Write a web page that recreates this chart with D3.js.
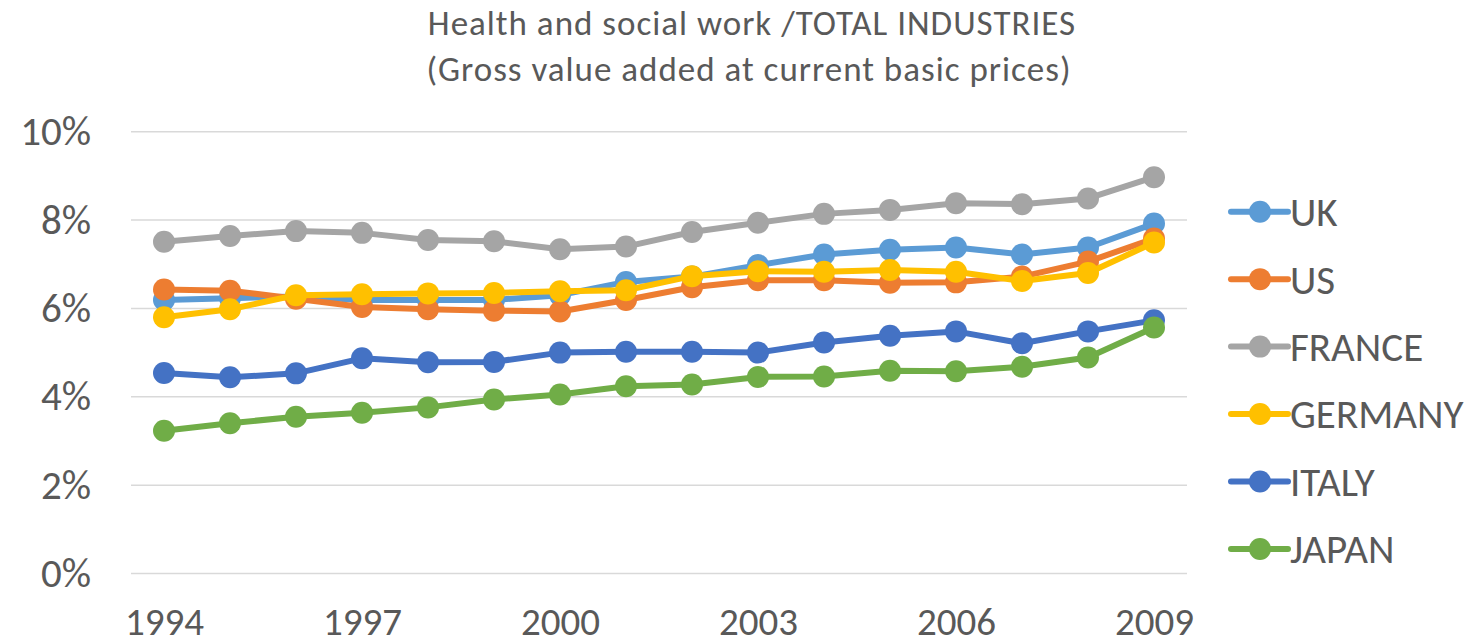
<!DOCTYPE html>
<html>
<head>
<meta charset="utf-8">
<script src="https://cdn.jsdelivr.net/npm/d3@7"></script>
<style>
  html, body { margin: 0; padding: 0; background: #fff; }
  svg { display: block; }
  text { font-family: Carlito, Calibri, Lato, "Open Sans", sans-serif; fill: #595959; }
</style>
</head>
<body>
<svg id="chart" width="1476" height="644"></svg>
<script>
// Share of health and social work in total gross value added (%)
const years = [1994,1995,1996,1997,1998,1999,2000,2001,2002,2003,2004,2005,2006,2007,2008,2009];
const tickYears = [1994,1997,2000,2003,2006,2009];
const yTicks = [0,2,4,6,8,10];

const uk      = [6.19,6.23,6.27,6.19,6.19,6.19,6.30,6.60,6.72,6.98,7.22,7.33,7.38,7.22,7.38,7.92];
const us      = [6.43,6.40,6.22,6.03,5.98,5.95,5.93,6.19,6.48,6.64,6.64,6.58,6.59,6.72,7.06,7.58];
const france  = [7.51,7.64,7.75,7.71,7.55,7.52,7.34,7.40,7.73,7.94,8.14,8.23,8.38,8.36,8.49,8.97];
const germany = [5.80,5.98,6.30,6.32,6.34,6.35,6.39,6.41,6.73,6.84,6.83,6.87,6.83,6.62,6.80,7.49];
const italy   = [4.54,4.44,4.53,4.87,4.78,4.79,5.00,5.02,5.02,5.00,5.23,5.38,5.48,5.21,5.48,5.73];
const japan   = [3.23,3.40,3.55,3.64,3.76,3.94,4.05,4.24,4.28,4.45,4.46,4.59,4.58,4.68,4.89,5.57];

const seriesNames  = ["UK","US","FRANCE","GERMANY","ITALY","JAPAN"];
const seriesValues = [uk, us, france, germany, italy, japan];
const seriesColors = ["#5B9BD5","#ED7D31","#A5A5A5","#FFC000","#4472C4","#70AD47"];

const svg = d3.select("#chart");

const x = d3.scalePoint().domain(years).range([131, 1187]).padding(0.5);
const y = d3.scaleLinear().domain([0, 10]).range([573.5, 131.7]);

// Title
svg.append("text")
  .attr("x", 752).attr("y", 35)
  .attr("text-anchor", "middle")
  .style("font-size", "35px")
  .style("letter-spacing", "1px")
  .text("Health and social work /TOTAL INDUSTRIES");
svg.append("text")
  .attr("x", 749).attr("y", 81)
  .attr("text-anchor", "middle")
  .style("font-size", "35px")
  .style("letter-spacing", "1px")
  .text("(Gross value added at current basic prices)");

// Horizontal gridlines
svg.append("g")
  .selectAll("line")
  .data(yTicks)
  .join("line")
  .attr("x1", 131).attr("x2", 1187)
  .attr("y1", d => y(d)).attr("y2", d => y(d))
  .attr("stroke", "#D9D9D9")
  .attr("stroke-width", 1.5);

// Y axis labels
const yAxis = d3.axisLeft(y).tickValues(yTicks).tickFormat(d => d + "%").tickSize(0).tickPadding(0);
const yg = svg.append("g").attr("transform", "translate(91,0)").call(yAxis);
yg.select(".domain").remove();
yg.selectAll("text").style("font-size", "41px").attr("fill", "#595959").attr("font-family", null);

// X axis labels
const xAxis = d3.axisBottom(x).tickValues(tickYears).tickSize(0).tickPadding(0);
const xg = svg.append("g").attr("transform", "translate(0,607)").call(xAxis);
xg.select(".domain").remove();
xg.selectAll("text").style("font-size", "39px").attr("fill", "#595959").attr("font-family", null);

// Series: line then markers, drawn in order so later series sit on top
const line = d3.line().x((d, i) => x(years[i])).y(d => y(d));
seriesValues.forEach((vals, s) => {
  const g = svg.append("g");
  g.append("path")
    .datum(vals)
    .attr("d", line)
    .attr("fill", "none")
    .attr("stroke", seriesColors[s])
    .attr("stroke-width", 6)
    .attr("stroke-linejoin", "round")
    .attr("stroke-linecap", "round");
  g.selectAll("circle")
    .data(vals)
    .join("circle")
    .attr("cx", (d, i) => x(years[i]))
    .attr("cy", d => y(d))
    .attr("r", 11)
    .attr("fill", seriesColors[s]);
});

// Legend
const legend = svg.append("g");
seriesNames.forEach((name, s) => {
  const cy = 211.7 + s * 67.45;
  legend.append("line")
    .attr("x1", 1231).attr("x2", 1288)
    .attr("y1", cy).attr("y2", cy)
    .attr("stroke", seriesColors[s])
    .attr("stroke-width", 6)
    .attr("stroke-linecap", "round");
  legend.append("circle")
    .attr("cx", 1260).attr("cy", cy).attr("r", 11)
    .attr("fill", seriesColors[s]);
  legend.append("text")
    .attr("x", 1290).attr("y", cy)
    .attr("dy", "0.35em")
    .style("font-size", "41px")
    .text(name);
});
</script>
</body>
</html>
